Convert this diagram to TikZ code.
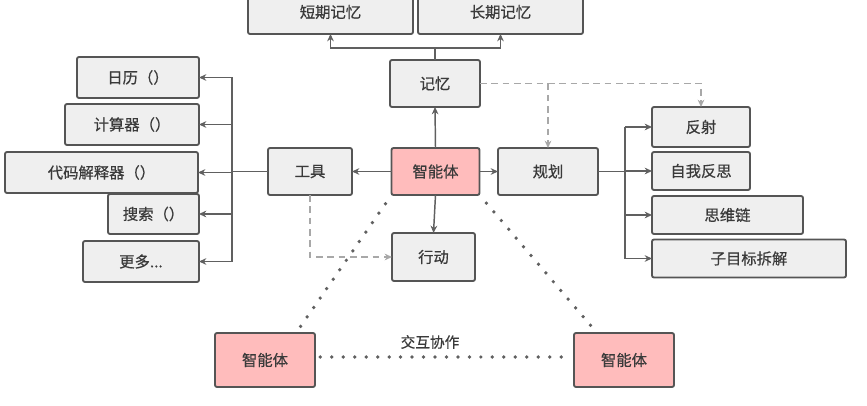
\documentclass[tikz,border=0pt]{standalone}
\usepackage{fontspec}
\setmainfont{Noto Sans CJK SC}[FakeBold=0.6]
\usetikzlibrary{arrows.meta,calc}
\definecolor{boxfill}{HTML}{EFEFEF}
\definecolor{boxline}{HTML}{555555}
\definecolor{pinkfill}{HTML}{FFBCBC}
\definecolor{linecol}{HTML}{606060}
\definecolor{dashcol}{HTML}{A8A8A8}
\definecolor{txtcol}{HTML}{3A3A3A}
\tikzset{
  wh/.style 2 args={minimum width=#1*0.75pt, minimum height=#2*0.75pt},
  box/.style={draw=boxline, fill=boxfill, line width=1.4pt, rounded corners=1.5pt,
    inner sep=0pt, outer sep=0pt, text=txtcol, font=\fontsize{11.5}{13}\selectfont},
  pinkbox/.style={box, fill=pinkfill},
  conn/.style={draw=linecol, line width=1.1pt},
  arr/.style={conn, -{Stealth[length=5.5pt,width=5pt]}},
  dasharr/.style={draw=dashcol, line width=1.1pt, dash pattern=on 5pt off 3.5pt,
    -{Stealth[length=5.5pt,width=5pt,open]}},
  dotline/.style={draw=linecol, line width=2.8pt, line cap=round,
    dash pattern=on 0pt off 8.6pt}
}
\begin{document}
\begin{tikzpicture}[x=0.75pt,y=-0.75pt]
\useasboundingbox (0,0) rectangle (867,406);
% memory
\node[box, wh={165}{44}] (stm) at (330.5,12) {短期记忆};
\node[box, wh={165}{44}] (ltm) at (500.5,12) {长期记忆};
\node[box, wh={90}{47}] (mem) at (435,83.5) {记忆};
\node[pinkbox, wh={88}{47}] (agent) at (435.5,171.5) {智能体};
\node[box, wh={84}{47}] (tool) at (310,171.5) {工具};
\node[box, wh={100}{47}] (plan) at (548,171.5) {规划};
\node[box, wh={83}{48}] (act) at (433.5,257) {行动};
% planning items
\node[box, wh={98}{40}] (ref) at (701,127) {反射};
\node[box, wh={98}{38}] (self) at (701,171) {自我反思};
\node[box, wh={151}{38}] (cot) at (727.5,215) {思维链};
\node[box, wh={194}{38}] (sub) at (749,258.5) {子目标拆解};
% tools
\node[box, wh={122}{41}] (cal) at (138,77.5) {日历（）};
\node[box, wh={134}{41}] (calc) at (132,124.5) {计算器（）};
\node[box, wh={193}{41}] (code) at (101.5,172.5) {代码解释器（）};
\node[box, wh={91}{40}] (search) at (153.5,214) {搜索（）};
\node[box, wh={116}{41}] (more) at (141,261.5) {更多...};
% other agents
\node[pinkbox, wh={100}{54}] (a2) at (265,360) {智能体};
\node[pinkbox, wh={100}{54}] (a3) at (624,360) {智能体};
\node[text=txtcol, font=\fontsize{11}{13}\selectfont] (lab) at (430,342) {交互协作};

% memory connectors
\coordinate (mj) at (435,48);
\draw[conn] (mem.north) -- (mj);
\draw[arr] (mj) -| (stm.south);
\draw[arr] (mj) -| (ltm.south);
\draw[arr] (agent.north) -- (mem.south);
\draw[dasharr] (mem.east) -| (ref.north);
\draw[dasharr] (mem.east -| plan.north) -- (plan.north);

% agent connectors
\draw[arr] (agent.west) -- (tool.east);
\draw[arr] (agent.east) -- (plan.west);
\draw[arr] (agent.south) -- (act.north);
\draw[dasharr] (tool.south) |- (act.west);

% tool tree
\coordinate (tt) at (232,171.5);
\draw[conn] (tool.west) -- (tt);
\draw[conn] (tt |- cal) -- (tt |- more);
\draw[arr] (tt |- cal) -- (cal.east);
\draw[arr] (tt |- calc) -- (calc.east);
\draw[arr] (tt |- code) -- (code.east);
\draw[arr] (tt |- search) -- (search.east);
\draw[arr] (tt |- more) -- (more.east);

% plan tree
\coordinate (pt) at (625,171.5);
\draw[conn] (plan.east) -- (pt);
\draw[conn] (pt |- ref) -- (pt |- sub);
\draw[arr] (pt |- ref) -- (ref.west);
\draw[arr] (pt |- self) -- (self.west);
\draw[arr] (pt |- cot) -- (cot.west);
\draw[arr] (pt |- sub) -- (sub.west);

% collaboration
\draw[dotline, shorten <=8pt, shorten >=5pt] (agent.south west) -- ($(a2.north)!0.62!(a2.north east)$);
\draw[dotline, shorten <=8pt, shorten >=5pt] (agent.south east) -- ($(a3.north)!0.54!(a3.north west)$);
\draw[dotline, shorten <=4pt, shorten >=4pt] (a2.east |- 0,357) -- (a3.west |- 0,357);
\end{tikzpicture}
\end{document}
